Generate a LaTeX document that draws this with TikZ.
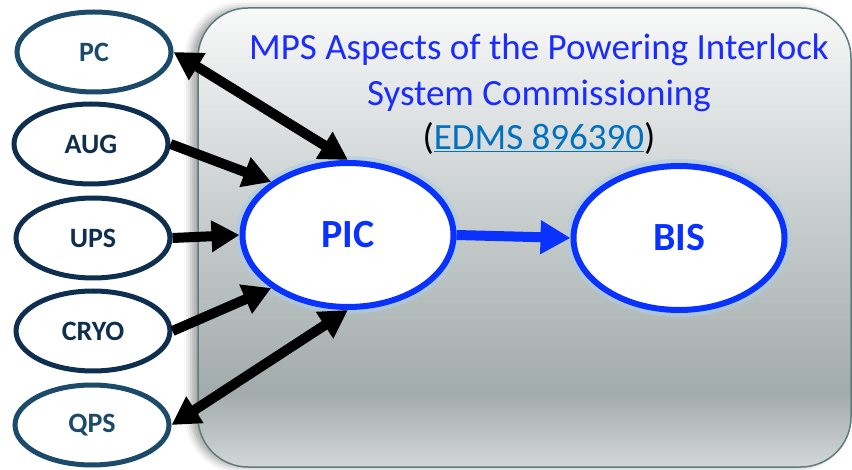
\documentclass[tikz,border=0pt]{standalone}
\usepackage{fontspec}
\setmainfont{Carlito}
\usetikzlibrary{shapes.geometric,arrows.meta,shadows.blur}
\definecolor{navyA}{HTML}{1C4A6A}
\definecolor{navyB}{HTML}{0F2F50}
\definecolor{picblue}{HTML}{0A32FF}
\definecolor{titleblue}{HTML}{1A2CFF}
\definecolor{linkc}{HTML}{0070C0}
\definecolor{glow}{HTML}{A8CCEA}
\definecolor{boxborder}{HTML}{5E7C7C}
\definecolor{boxbot}{HTML}{D3D7D7}
\definecolor{boxmid}{HTML}{A2ABAB}
\definecolor{boxup}{HTML}{CDD2D2}
\definecolor{boxtop}{HTML}{F8F9F9}
\pgfdeclareverticalshading{boxshade}{100bp}{color(0bp)=(boxbot); color(25bp)=(boxbot); color(33bp)=(boxmid); color(55bp)=(boxup); color(75bp)=(boxtop); color(100bp)=(boxtop)}
\tikzset{
  frame/.style={rectangle, rounded corners=50pt, draw=boxborder, line width=1.5pt,
    shading=boxshade, minimum width=653pt, minimum height=459pt, inner sep=0pt,
    blur shadow={shadow xshift=-7pt, shadow yshift=0pt, shadow blur radius=7pt, shadow opacity=35}},
  src/.style={ellipse, draw=#1, text=#1, line width=5pt, fill=white,
    minimum width=154pt, minimum height=80pt, inner sep=0pt, font=\fontsize{28}{32}\selectfont\bfseries},
  big/.style={ellipse, draw=picblue, text=picblue, line width=6pt, fill=white,
    minimum width=211pt, minimum height=144pt, inner sep=0pt, font=\fontsize{40}{44}\selectfont\bfseries,
    preaction={draw=glow, line width=14pt, opacity=0.6}},
  title/.style={anchor=base, text=titleblue, font=\fontsize{37}{40}\selectfont, inner sep=0pt},
  blk/.style={line width=10pt, draw=black},
}
\begin{document}
\begin{tikzpicture}[x=1pt, y=-1pt]
\useasboundingbox (0,0) rectangle (852,470);
\node[frame] (box) at (524.5,237.5) {};
\node[title] (t1) at (539,60) {MPS Aspects of the Powering Interlock};
\node[title] (t2) at (539,106) {System Commissioning};
\node[title, text=black] (t3) at (539,150) {({\color{linkc}\underline{EDMS 896390}})};
\node[src=navyA] (pc) at (94,52) {PC};
\node[src=navyB] (aug) at (91,144) {AUG};
\node[src=navyB] (ups) at (93,238) {UPS};
\node[src=navyB] (cryo) at (93,331) {CRYO};
\node[src=navyA] (qps) at (92,425) {QPS};
\node[big] (pic) at (348,235) {PIC};
\node[big] (bis) at (679,238) {BIS};
\draw[blk, {Triangle[length=28pt, width=30pt]}-{Triangle[length=28pt, width=30pt]}] (pc.east) -- (pic.north);
\draw[blk, -{Triangle[length=28pt, width=30pt]}] (aug.east) -- (pic.north west);
\draw[blk, -{Triangle[length=28pt, width=30pt]}] (ups.east) -- (pic.west);
\draw[blk, -{Triangle[length=28pt, width=30pt]}] (cryo.east) -- (pic.south west);
\draw[blk, {Triangle[length=28pt, width=30pt]}-{Triangle[length=28pt, width=30pt]}] (qps.east) -- (pic.south);
\draw[line width=10pt, draw=picblue, -{Triangle[length=30pt, width=32pt]}] (pic.east) -- (bis.west);
\end{tikzpicture}
\end{document}
